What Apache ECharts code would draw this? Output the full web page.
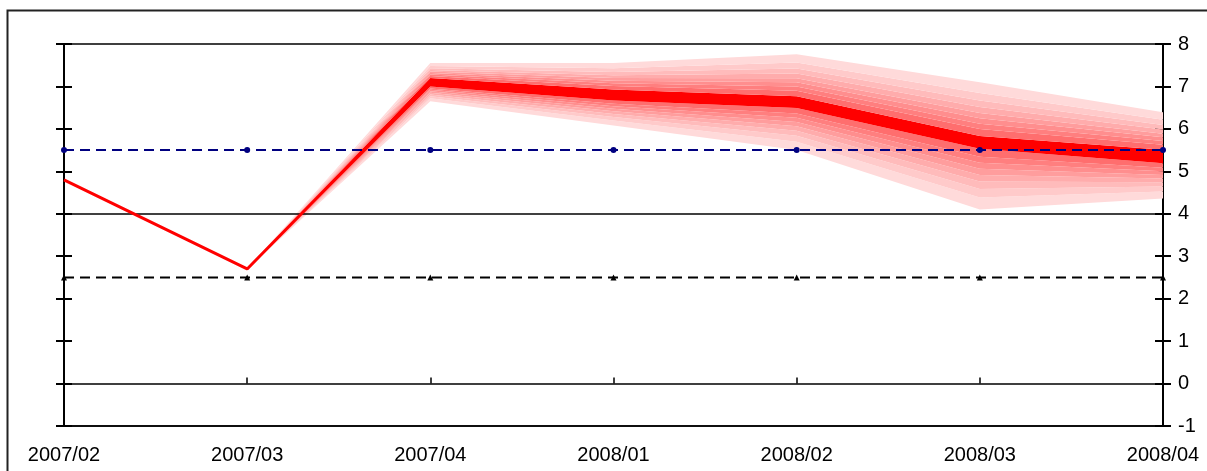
<!DOCTYPE html>
<html>
<head>
<meta charset="utf-8">
<script src="https://cdn.jsdelivr.net/npm/echarts@6/dist/echarts.min.js"></script>
<style>html,body{margin:0;padding:0;background:#fff;}#c{width:1207px;height:471px;}</style>
</head>
<body>
<div id="c"></div>
<script>
// ---- data ----
var categories = ['2007/02','2007/03','2007/04','2008/01','2008/02','2008/03','2008/04'];
var central    = [4.8, 2.7, 7.1, 6.8, 6.63, 5.68, 5.35];
var fanUpper   = [null, 2.7, 7.55, 7.55, 7.76, 7.1, 6.39];
var fanLower   = [null, 2.7, 6.65, 6.08, 5.5, 4.1, 4.36];
var coreHalf   = [null, 0, 0.1, 0.13, 0.14, 0.15, 0.16];
var upperRef   = [5.5, 5.5, 5.5, 5.5, 5.5, 5.5, 5.5];
var lowerRef   = [2.5, 2.5, 2.5, 2.5, 2.5, 2.5, 2.5];
var yTicks     = [-1, 0, 1, 2, 3, 4, 5, 6, 7, 8];
// fan band boundary levels (share of the way from core edge to outer edge)
var bandLevels = [1, 0.8, 0.66, 0.54, 0.43, 0.33, 0.23, 0.13, 0];
var bandColors = ['#FFDADA','#FFCACA','#FFBBBB','#FFACAC','#FF9D9D','#FF8E8E','#FF7F7F','#FF6E6E'];
var coreColor  = '#FF0000';

// ---- build fan stack ----
var edges = []; // list of arrays, bottom to top
bandLevels.forEach(function (f) {
  edges.push(categories.map(function (_, i) {
    if (fanLower[i] == null) return null;
    var h = coreHalf[i], hl = central[i] - fanLower[i];
    return central[i] - (h + (hl - h) * f);
  }));
});
bandLevels.slice().reverse().forEach(function (f) {
  edges.push(categories.map(function (_, i) {
    if (fanUpper[i] == null) return null;
    var h = coreHalf[i], hu = fanUpper[i] - central[i];
    return central[i] + (h + (hu - h) * f);
  }));
});
var bandFill = bandColors.concat([coreColor]).concat(bandColors.slice().reverse());

var series = [];
series.push({
  type: 'line', stack: 'fan', symbol: 'none', silent: true,
  lineStyle: { opacity: 0 },
  data: edges[0].map(function (v) { return v == null ? '-' : v; })
});
for (var k = 0; k < edges.length - 1; k++) {
  series.push({
    type: 'line', stack: 'fan', symbol: 'none', silent: true,
    lineStyle: { opacity: 0 },
    areaStyle: { color: bandFill[k], opacity: 1 },
    data: edges[k + 1].map(function (v, i) { return v == null ? '-' : +(v - edges[k][i]).toFixed(5); })
  });
}
series.push({
  type: 'line', symbol: 'none', data: central,
  lineStyle: { color: '#FF0000', width: 3 }, z: 5,
  markLine: {
    silent: true, symbol: 'none', label: { show: false },
    lineStyle: { color: '#000', width: 1.5, type: 'solid' },
    data: [{ yAxis: 4 }]
  }
});
series.push({
  type: 'line', data: lowerRef, symbol: 'triangle', symbolSize: 6,
  itemStyle: { color: '#000' },
  lineStyle: { color: '#000', width: 2, type: [10, 6] }, z: 6
});
series.push({
  type: 'line', data: upperRef, symbol: 'circle', symbolSize: 6,
  itemStyle: { color: '#000080' },
  lineStyle: { color: '#000080', width: 2, type: [10, 6] }, z: 7
});

var font = "'Liberation Sans', Arial, sans-serif";
function yAx(pos, inside, labels) {
  return {
    type: 'value', position: pos, min: -1, max: 8, interval: 1,
    splitLine: { show: false },
    axisLine: { show: true, onZero: false, lineStyle: { color: '#000', width: 2 } },
    axisTick: { show: true, inside: inside, length: 8, lineStyle: { color: '#000', width: 2 } },
    axisLabel: { show: labels, color: '#000', fontSize: 20, fontFamily: font, margin: 15 }
  };
}

var chart = echarts.init(document.getElementById('c'), null, { renderer: 'canvas' });
chart.setOption({
  animation: false,
  backgroundColor: '#fff',
  grid: { left: 64, right: 44, top: 44, bottom: 45, show: true, borderColor: '#000', borderWidth: 1.5, backgroundColor: 'transparent' },
  graphic: [{
    type: 'rect', left: 5, top: 8, shape: { width: 1300, height: 600 },
    style: { fill: null, stroke: '#222', lineWidth: 2 }, silent: true
  }],
  xAxis: [{
    type: 'category', data: categories, boundaryGap: false, position: 'bottom',
    axisLine: { show: true, onZero: false, lineStyle: { color: '#000', width: 1.5 } },
    axisTick: { show: false },
    axisLabel: { color: '#000', fontSize: 20, fontFamily: font, margin: 19, interval: 0 }
  }, {
    type: 'category', data: categories, boundaryGap: false, position: 'bottom',
    axisLine: { show: true, onZero: true, onZeroAxisIndex: 0, lineStyle: { color: '#000', width: 1.5 } },
    axisTick: { show: true, inside: true, length: 6, alignWithLabel: true, lineStyle: { color: '#000', width: 1.5 } },
    axisLabel: { show: false }
  }],
  yAxis: [yAx('left', false, false), yAx('left', true, false), yAx('right', false, true), yAx('right', true, false)],
  series: series
});
</script>
</body>
</html>
